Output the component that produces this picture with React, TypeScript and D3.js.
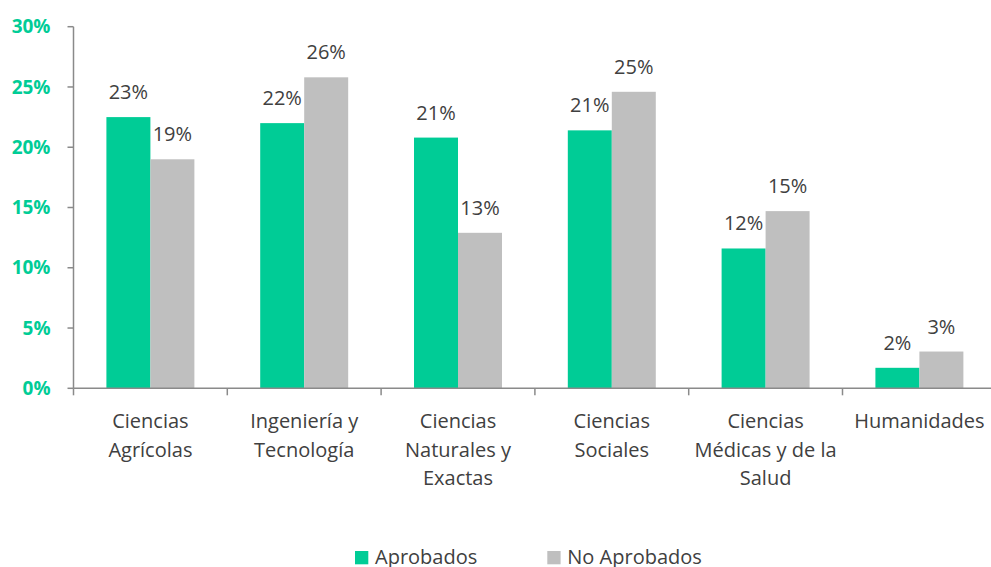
import React from "react";
import * as d3 from "d3";

const categories: string[][] = [
  ["Ciencias", "Agrícolas"],
  ["Ingeniería y", "Tecnología"],
  ["Ciencias", "Naturales y", "Exactas"],
  ["Ciencias", "Sociales"],
  ["Ciencias", "Médicas y de la", "Salud"],
  ["Humanidades"],
];
const categoryKeys = ["agricolas", "ingenieria", "naturales", "sociales", "medicas", "humanidades"];
const aprobados = [22.5, 22.0, 20.8, 21.4, 11.6, 1.7];
const noAprobados = [19.0, 25.8, 12.9, 24.6, 14.7, 3.05];
const seriesNames = ["Aprobados", "No Aprobados"];
const yTicks = [0, 5, 10, 15, 20, 25, 30];

const GREEN = "#00CC96";
const GRAY = "#BFBFBF";
const TEXT = "#404040";
const AXIS = "#8A8A8A";
const FONT = "'Open Sans', sans-serif";

export default function App() {
  const W = 991;
  const H = 567;
  const left = 73.5;
  const catW = 153.8;
  const y = d3.scaleLinear().domain([0, 30]).range([388.3, 26.7]);
  const x0 = d3.scaleBand<string>().domain(categoryKeys).range([left, left + catW * 6]).paddingInner(0).paddingOuter(0);
  const x1 = d3.scaleBand<string>().domain(seriesNames).range([0, x0.bandwidth()]).paddingInner(0).paddingOuter(0.748);
  const colors = [GREEN, GRAY];
  const data = [aprobados, noAprobados];
  const y0 = y(0);

  return (
    <div style={{ position: "absolute", left: 0, top: 0, width: W, height: H, overflow: "hidden", background: "#fff" }}>
      <svg width={W} height={H} style={{ display: "block" }} fontFamily={FONT}>
        {/* bars */}
        {categoryKeys.map((k, i) =>
          seriesNames.map((s, j) => {
            const v = data[j][i];
            const bx = (x0(k) ?? 0) + (x1(s) ?? 0);
            const top = y(v);
            return (
              <g key={k + s}>
                <rect x={bx} y={top} width={x1.bandwidth()} height={y0 - top} fill={colors[j]} />
                <text x={bx + x1.bandwidth() / 2} y={top - 18} textAnchor="middle" fontSize={20} fill={TEXT}>
                  {d3.format(".0f")(Math.round(v)) + "%"}
                </text>
              </g>
            );
          })
        )}
        {/* y axis */}
        <line x1={left} x2={left} y1={y(30)} y2={y0} stroke={AXIS} strokeWidth={1.5} />
        {yTicks.map((t) => (
          <g key={t}>
            <line x1={left - 6} x2={left} y1={y(t)} y2={y(t)} stroke={AXIS} strokeWidth={1.5} />
            <text x={50.5} y={y(t)} dy="0.35em" textAnchor="end" fontSize={19} fontWeight="bold" fill={GREEN}>
              {t + "%"}
            </text>
          </g>
        ))}
        {/* x axis */}
        <line x1={left} x2={left + catW * 6} y1={y0} y2={y0} stroke={AXIS} strokeWidth={1.5} />
        {d3.range(categoryKeys.length + 1).map((i) => (
          <line key={i} x1={left + i * catW} x2={left + i * catW} y1={y0} y2={y0 + 7} stroke={AXIS} strokeWidth={1.5} />
        ))}
        {categoryKeys.map((k, i) => (
          <text key={k} textAnchor="middle" fontSize={20} fill={TEXT}>
            {categories[i].map((line, li) => (
              <tspan key={li} x={(x0(k) ?? 0) + x0.bandwidth() / 2} y={428.3 + li * 28.3}>
                {line}
              </tspan>
            ))}
          </text>
        ))}
        {/* legend */}
        {seriesNames.map((s, j) => {
          const lx = j === 0 ? 355 : 547.3;
          return (
            <g key={s}>
              <rect x={lx} y={551} width={13.3} height={13.3} fill={colors[j]} />
              <text x={lx + 20} y={564} fontSize={20} fill={TEXT}>
                {s}
              </text>
            </g>
          );
        })}
      </svg>
    </div>
  );
}
